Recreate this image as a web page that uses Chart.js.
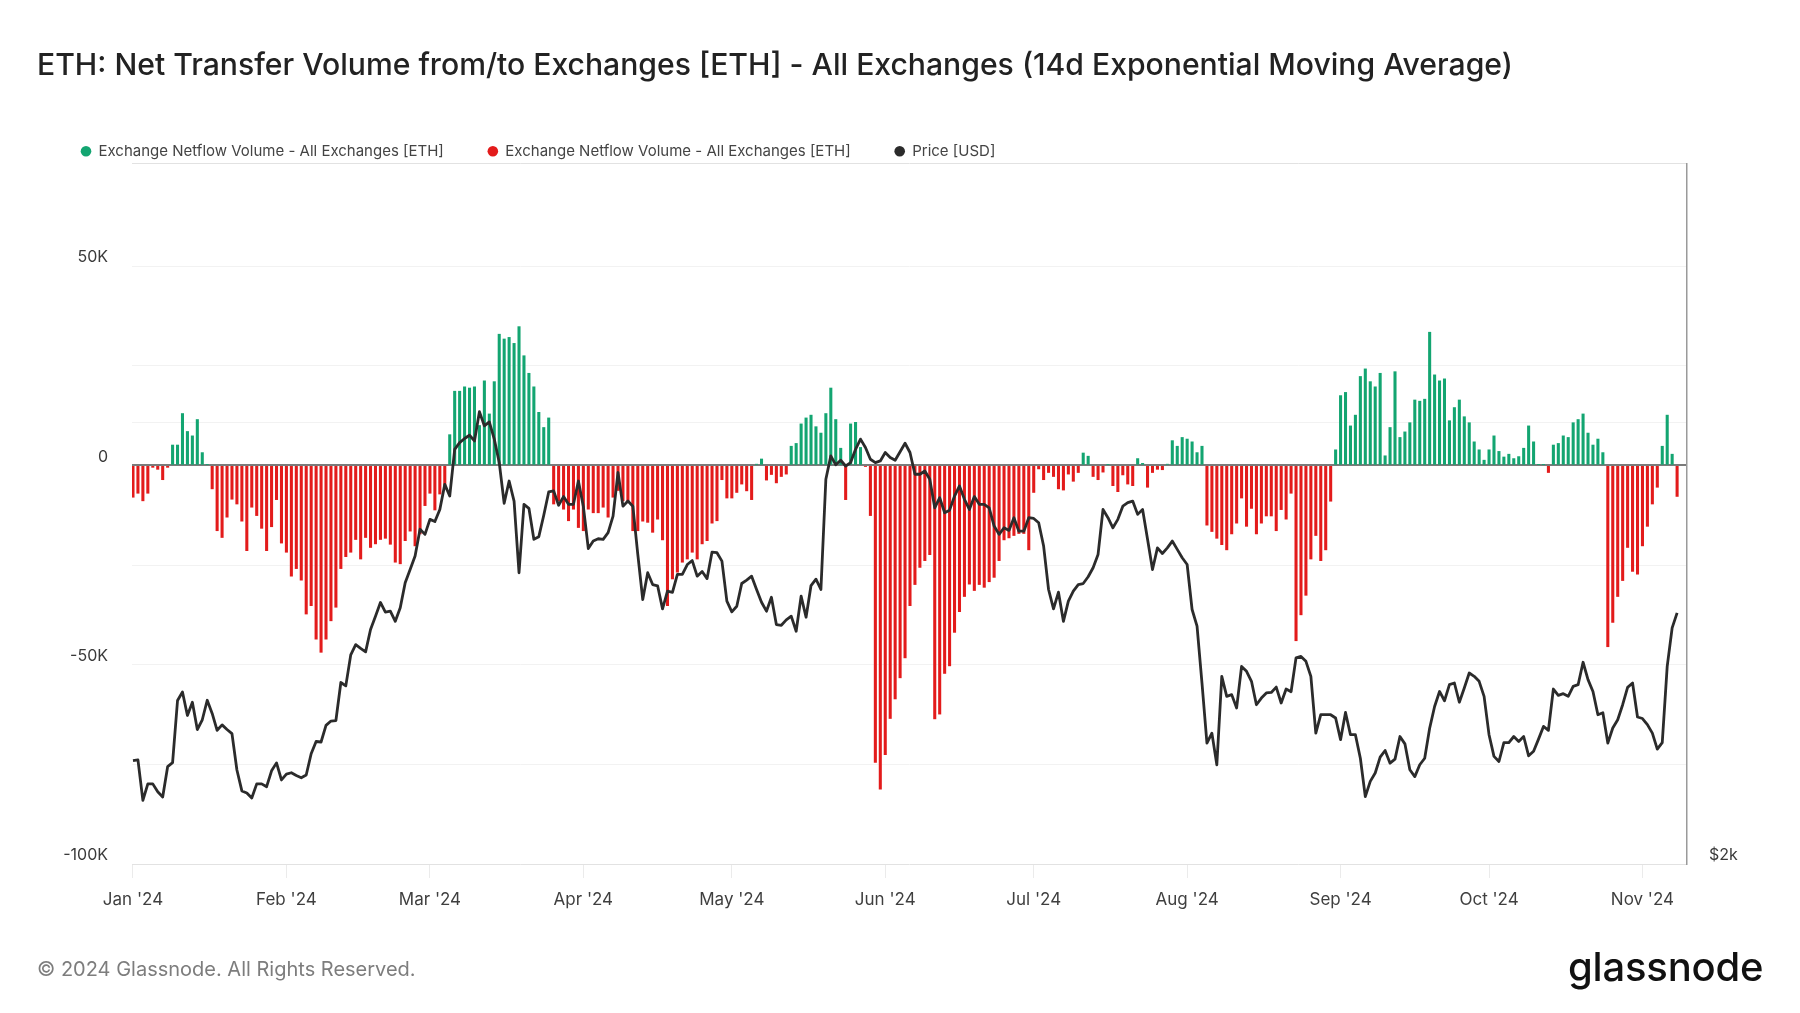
<!DOCTYPE html>
<html>
<head>
<meta charset="utf-8">
<script src="https://cdn.jsdelivr.net/npm/chart.js@4.4.1/dist/chart.umd.min.js"></script>
<style>
  html, body { margin: 0; padding: 0; background: #ffffff; }
  body { width: 1800px; height: 1013px; position: relative; overflow: hidden; font-family: Inter, "Noto Sans", sans-serif; }
  #chart { position: absolute; left: 0; top: 0; }
  #footer { position: absolute; left: 37px; top: 959px; font-size: 20px; line-height: 20px; color: #7d7d7d; white-space: nowrap; }
  #logo { position: absolute; left: 1568px; top: 947px; font-size: 40px; line-height: 40px; font-weight: 500; color: #111111; letter-spacing: -0.2px; white-space: nowrap; }
</style>
</head>
<body>
<canvas id="chart" width="1800" height="1013"></canvas>
<div id="footer">© 2024 Glassnode. All Rights Reserved.</div>
<div id="logo">glassnode</div>
<script>
// ---------- DATA (daily, 2024-01-01 .. 2024-11-08) ----------
const startDate = '2024-01-01';

// Exchange netflow volume, 14d EMA [ETH]
const netflow = [
  // Jan
  -8000, -7000, -8900, -7000, -500, -1000, -3600, -500, 5100, 5100, 13000, 8500, 7400, 11500, 3200, 200,
  -5900, -16400, -18100, -13000, -8500, -9700, -14000, -21400, -10500, -12600, -15800, -21400, -15400, -8600, -19500,
  // Feb
  -21800, -27800, -25900, -28800, -37300, -35200, -43600, -46900, -43600, -39000, -35600, -25900, -22900, -21800,
  -18600, -23500, -18100, -20600, -19700, -18600, -18300, -19800, -24300, -24700, -18900, -16500, -20200, -17200, -10100,
  // Mar
  -7000, -11200, -7200, -5100, 7700, 18600, 18600, 19700, 19400, 19700, 10000, 21200, 12900, 21000, 32900, 31700,
  32100, 30600, 34800, 27500, 23100, 19700, 13300, 9500, 11900, -9700, -8900, -11000, -13900, -11000, -15600,
  // Apr
  -16400, -11000, -11900, -11900, -10500, -13000, -8000, -6300, -8900, -8900, -16400, -16400, -14000, -14300, -16800,
  -13500, -18700, -35200, -28500, -26800, -24300, -23500, -21800, -23500, -19700, -18900, -14500, -13900, -3600, -8200,
  // May
  -8200, -6800, -4700, -6400, -8600, 300, 1600, -3700, -2300, -4400, -2800, -2200, 4800, 5500, 10400, 11900,
  12600, 9700, 8100, 13000, 19400, 11500, 4300, -8600, 10400, 10800, 4500, -300, -12600, -74500, -81200,
  // Jun
  -72600, -63500, -58600, -53300, -48300, -35200, -29900, -25600, -23900, -22400, -63600, -62400, -52200, -50300, -41900,
  -36700, -32900, -29800, -31400, -29900, -30600, -29200, -28100, -23900, -18700, -18200, -17600, -17100, -17100, -21200,
  // Jul
  -6800, -900, -3600, -1800, -2800, -5900, -6200, -2200, -4000, -1800, 3100, 2300, -2800, -3600, -1700, 200,
  -5100, -6600, -2400, -4700, -5100, 1700, 500, -5500, -1800, -1000, -1100, 300, 6200, 4800, 7000,
  // Aug
  6600, 5900, 3200, 4800, -15000, -16600, -18300, -19900, -21200, -17200, -14500, -8200, -15300, -10800, -17200, -14500,
  -12700, -12700, -16400, -11100, -13500, -7000, -44000, -37500, -32600, -23500, -17600, -23900, -21200, -9000, 3900,
  // Sep
  17500, 18300, 9900, 12600, 22300, 24200, 21000, 19700, 23100, 2400, 9500, 23500, 7000, 8400, 10700,
  16400, 16100, 16600, 33400, 22700, 21200, 21700, 11200, 14500, 16400, 12200, 10700, 5900, 3900, 1300,
  // Oct
  3900, 7400, 3500, 2100, 2800, 1700, 2200, 4300, 9900, 5900, 200, 200, -1800, 5100, 5500, 7400,
  7000, 10700, 11500, 12900, 8100, 5100, 6600, 3200, -45500, -39400, -32900, -28900, -20600, -26600, -27300,
  // Nov
  -20200, -15300, -9700, -5500, 4800, 12600, 2800, -7800
];

// ETH price [USD]
const price = [
  // Jan
  2352, 2355, 2210, 2268, 2268, 2240, 2222, 2330, 2345, 2585, 2620, 2525, 2578, 2470, 2508, 2586,
  2533, 2467, 2488, 2470, 2454, 2318, 2243, 2236, 2218, 2268, 2268, 2258, 2315, 2344, 2282,
  // Feb
  2303, 2308, 2298, 2290, 2300, 2378, 2424, 2422, 2486, 2503, 2505, 2659, 2645, 2777, 2822,
  2805, 2790, 2890, 2950, 3015, 2970, 2974, 2927, 2990, 3110, 3175, 3243, 3382, 3355,
  // Mar
  3435, 3423, 3489, 3629, 3563, 3834, 3875, 3900, 3920, 3885, 4067, 3978, 4003, 3896, 3756, 3523,
  3648, 3535, 3159, 3517, 3495, 3329, 3343, 3457, 3586, 3592, 3512, 3560, 3517, 3517, 3648,
  // Apr
  3505, 3281, 3320, 3332, 3329, 3364, 3453, 3697, 3507, 3535, 3507, 3251, 3029, 3159, 3101,
  3095, 2985, 3069, 3063, 3151, 3151, 3200, 3220, 3142, 3165, 3130, 3263, 3260, 3217, 3021,
  // May
  2971, 2997, 3106, 3123, 3142, 3077, 3016, 2974, 3040, 2912, 2909, 2934, 2951, 2882, 3045, 2946,
  3096, 3127, 3077, 3658, 3795, 3742, 3769, 3735, 3755, 3834, 3896, 3845, 3775, 3755, 3765,
  // Jun
  3815, 3785, 3769, 3820, 3871, 3815, 3687, 3687, 3706, 3658, 3498, 3554, 3471, 3485, 3563,
  3620, 3545, 3489, 3560, 3517, 3517, 3498, 3399, 3355, 3390, 3376, 3444, 3372, 3372, 3444,
  // Jul
  3440, 3417, 3294, 3077, 2985, 3064, 2927, 3021, 3069, 3101, 3106, 3139, 3184, 3251, 3489, 3444,
  3390, 3435, 3507, 3526, 3535, 3462, 3489, 3329, 3175, 3285, 3256, 3285, 3320, 3277, 3234,
  // Aug
  3200, 2982, 2905, 2657, 2418, 2456, 2337, 2685, 2602, 2609, 2555, 2727, 2706, 2664, 2568, 2595,
  2616, 2618, 2640, 2575, 2632, 2621, 2764, 2770, 2749, 2685, 2456, 2528, 2528, 2528, 2515,
  // Sep
  2431, 2537, 2450, 2450, 2361, 2223, 2277, 2307, 2365, 2390, 2343, 2358, 2443, 2415, 2319,
  2294, 2337, 2361, 2475, 2561, 2622, 2584, 2650, 2657, 2578, 2636, 2699, 2685, 2664, 2602,
  // Oct
  2450, 2368, 2349, 2420, 2420, 2443, 2424, 2443, 2370, 2387, 2433, 2482, 2467, 2632, 2606, 2613,
  2602, 2643, 2650, 2745, 2671, 2622, 2528, 2536, 2418, 2476, 2508, 2568, 2639, 2657, 2519,
  // Nov
  2513, 2489, 2456, 2395, 2420, 2727, 2897, 2966
];

const monthLabels = ["Jan '24", "Feb '24", "Mar '24", "Apr '24", "May '24", "Jun '24",
                     "Jul '24", "Aug '24", "Sep '24", "Oct '24", "Nov '24"];
const yMin = -100000;
const yMax = 75600;
const yTickValues = [-100000, -75000, -50000, -25000, 0, 25000, 50000, yMax];
const yTickLabels = ['-100K', '', '-50K', '', '0', '', '50K', ''];
const priceTickValues = [2000, 4000];
const priceTickLabels = ['$2k', ''];

const seriesNames = ['Exchange Netflow Volume - All Exchanges [ETH]',
                     'Exchange Netflow Volume - All Exchanges [ETH]',
                     'Price [USD]'];
const titleText = 'ETH: Net Transfer Volume from/to Exchanges [ETH] - All Exchanges (14d Exponential Moving Average)';

// ---------- derived ----------
const t0 = Date.parse(startDate + 'T00:00:00Z');
const dates = netflow.map((_, i) => new Date(t0 + i * 86400000).toISOString().slice(0, 10));
const monthTickIdx = [];
dates.forEach((d, i) => { if (d.endsWith('-01')) monthTickIdx.push(i); });

const inflowPts = netflow.map((v, i) => ({ x: i, y: v })).filter(p => p.y >= 0);
const outflowPts = netflow.map((v, i) => ({ x: i, y: v })).filter(p => p.y < 0);
const pricePts = price.map((v, i) => ({ x: i, y: v }));

const FONT = 'Inter, "Noto Sans", sans-serif';
const GREEN = '#13a571';
const RED = '#e31b1b';
const DARK = '#2b2b2b';

new Chart(document.getElementById('chart'), {
  type: 'bar',
  data: {
    datasets: [
      { label: seriesNames[0], data: inflowPts, backgroundColor: GREEN, borderWidth: 0,
        barThickness: 2.4, grouped: false, yAxisID: 'y', order: 1 },
      { label: seriesNames[1], data: outflowPts, backgroundColor: RED, borderWidth: 0,
        barThickness: 2.4, grouped: false, yAxisID: 'y', order: 1 },
      { type: 'line', label: seriesNames[2], data: pricePts, borderColor: DARK, backgroundColor: DARK,
        borderWidth: 2.8, pointRadius: 0, tension: 0, borderJoinStyle: 'round', yAxisID: 'yPrice', order: 0 }
    ]
  },
  options: {
    responsive: false,
    animation: false,
    devicePixelRatio: 1,
    layout: { padding: { left: 37, right: 0, top: 0, bottom: 99 } },
    plugins: {
      tooltip: { enabled: false },
      title: {
        display: true, text: titleText, align: 'start', color: '#222222',
        font: { family: FONT, size: 30.15, weight: '500', lineHeight: 1.2 },
        padding: { top: 48, bottom: 15.5 }
      },
      legend: {
        display: true, position: 'top', align: 'start', maxHeight: 64.3,
        labels: {
          usePointStyle: true, pointStyle: 'circle', boxWidth: 10, boxHeight: 7.5, padding: 44,
          color: '#444444', font: { family: FONT, size: 15 },
          sort: (a, b) => a.datasetIndex - b.datasetIndex,
          generateLabels: (chart) => Chart.defaults.plugins.legend.labels.generateLabels(chart)
            .map(l => Object.assign(l, { lineWidth: 0 }))
        }
      }
    },
    scales: {
      x: {
        type: 'linear', min: -0.2, max: 314, offset: false,
        afterBuildTicks: (s) => { s.ticks = monthTickIdx.map(v => ({ value: v })); },
        afterFit: (s) => { s.height = 50; },
        ticks: {
          autoSkip: false, maxRotation: 0, padding: 11.5, color: '#3f3f3f',
          font: { family: FONT, size: 17 },
          callback: (v, i) => monthLabels[i]
        },
        grid: { offset: false, drawOnChartArea: false, drawTicks: true, tickLength: 14, color: '#ebebeb' },
        border: { display: false }
      },
      y: {
        type: 'linear', position: 'left', min: yMin, max: yMax,
        afterBuildTicks: (s) => { s.ticks = yTickValues.map(v => ({ value: v })); },
        afterFit: (s) => { s.width = 95; },
        ticks: {
          padding: 24, labelOffset: -8.5, color: '#3a3a3a', font: { family: FONT, size: 16 },
          callback: (v, i) => yTickLabels[i]
        },
        grid: {
          drawTicks: false,
          color: (c) => c.tick.value === 0 ? '#7b7b7b'
                      : (c.tick.value === yMax || c.tick.value === yMin) ? '#e2e2e2' : '#f2f2f2',
          lineWidth: (c) => c.tick.value === 0 ? 2 : 1
        },
        border: { display: false }
      },
      yPrice: {
        type: 'logarithmic', position: 'right', min: 2000, max: 6000,
        afterBuildTicks: (s) => { s.ticks = priceTickValues.map(v => ({ value: v })); },
        afterFit: (s) => { s.width = 113; },
        ticks: {
          padding: 22, labelOffset: -8.5, color: '#3a3a3a', font: { family: FONT, size: 16 },
          callback: (v, i) => priceTickLabels[i]
        },
        grid: {
          drawTicks: false,
          color: (c) => c.tick.value === 4000 ? '#f2f2f2' : 'rgba(0,0,0,0)'
        },
        border: { display: true, color: '#9a9a9a', width: 1.5 }
      }
    }
  }
});
</script>
</body>
</html>
